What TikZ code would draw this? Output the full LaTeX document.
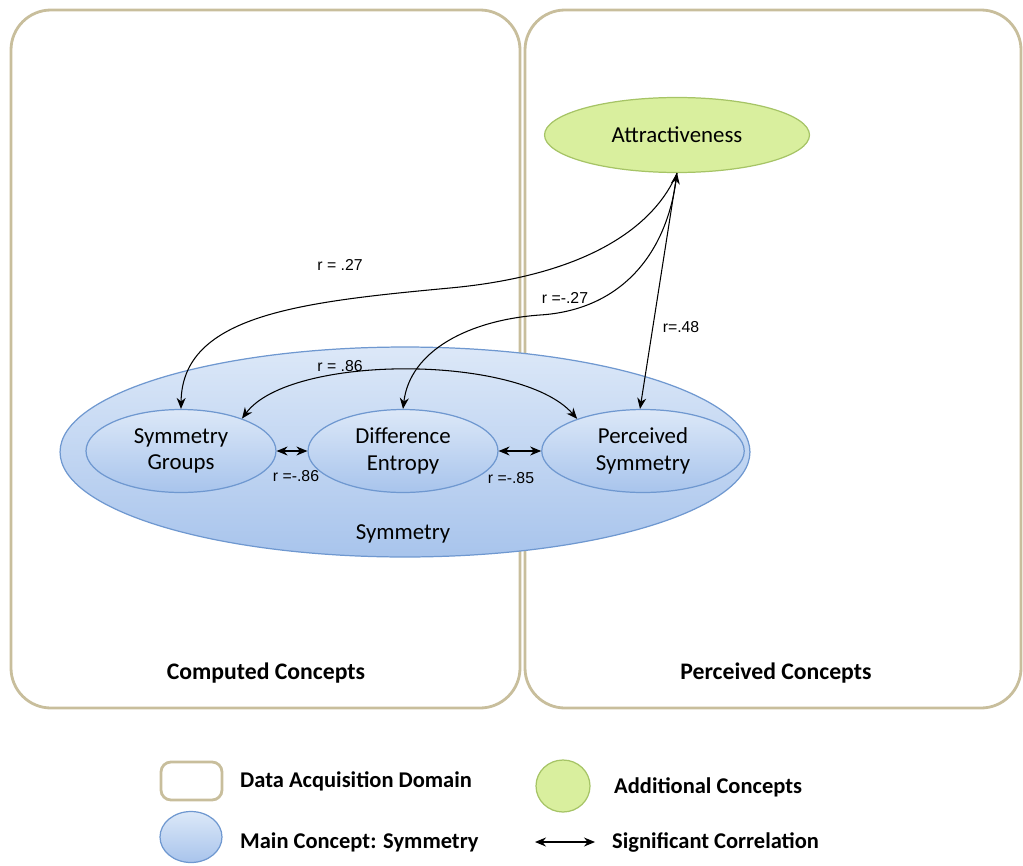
\documentclass[tikz,border=0pt]{standalone}
\usepackage{fontspec}
\setmainfont{Carlito}
\newfontfamily\rfont{Liberation Sans}
\usepackage{xcolor}
\usetikzlibrary{shapes.geometric, arrows.meta}

\definecolor{domainline}{HTML}{C8BE9C}
\definecolor{symtop}{HTML}{DCE8F8}
\definecolor{symbottom}{HTML}{A8C4EC}
\definecolor{symline}{HTML}{6F98D0}
\definecolor{addfill}{HTML}{D9EF9E}
\definecolor{addline}{HTML}{A6C466}

\tikzset{
    acqbox/.style={draw=domainline, line width=1.6pt, rounded corners=0.8cm},
    mainconcept/.style={ellipse, draw=symline, line width=0.7pt,
                        top color=symtop, bottom color=symbottom,
                        align=center, font=\fontsize{13}{15}\selectfont},
    addconcept/.style={ellipse, draw=addline, line width=0.7pt, fill=addfill,
                       align=center, font=\fontsize{13}{15}\selectfont},
    corr/.style={{Stealth[length=2.2mm,width=1.8mm]}-{Stealth[length=2.2mm,width=1.8mm]}, line width=0.6pt},
    tocorr/.style={-{Stealth[length=2.2mm,width=1.8mm]}, line width=0.6pt},
    rlabel/.style={font=\rfont\fontsize{9}{10}\selectfont},
    boxlabel/.style={font=\bfseries\fontsize{13.5}{15}\selectfont},
    legendtext/.style={anchor=west, font=\bfseries\fontsize{12.8}{14}\selectfont}
}

\begin{document}
\begin{tikzpicture}[x=0.02cm, y=-0.02cm]
    \useasboundingbox (0,0) rectangle (1023,865);

    % data acquisition domains
    \draw[acqbox] (11,10) rectangle (520,708);
    \draw[acqbox] (525,10) rectangle (1021,708);
    \node[boxlabel] (computed) at (266,673) {Computed Concepts};
    \node[boxlabel] (perceived) at (776,673) {Perceived Concepts};

    % concepts
    \node[mainconcept, minimum width=13.8cm, minimum height=4.2cm] (sym) at (405,452) {};
    \node[font=\fontsize{13}{15}\selectfont] (symlabel) at (403,534) {Symmetry};
    \node[mainconcept, minimum width=3.8cm, minimum height=1.66cm] (sg) at (181,451) {Symmetry\\Groups};
    \node[mainconcept, minimum width=3.8cm, minimum height=1.66cm] (de) at (403,451) {Difference\\Entropy};
    \node[mainconcept, minimum width=4.05cm, minimum height=1.66cm] (ps) at (643,451) {Perceived\\Symmetry};
    \node[addconcept, minimum width=5.3cm, minimum height=1.5cm] (attr) at (677,135) {Attractiveness};

    % correlations
    \draw[corr] (sg.east) -- (de.west);
    \draw[corr] (de.east) -- (ps.west);
    \draw[corr] (sg.28) .. controls (290,354) and (520,354) .. (ps.154);
    \draw[tocorr] (attr.south) .. controls (655,225) and (590,275) .. (450,288)
                  .. controls (300,302) and (182,315) .. (sg.north);
    \draw[tocorr] (attr.south) .. controls (668,255) and (620,310) .. (540,315)
                  .. controls (470,320) and (410,350) .. (de.north);
    \draw[corr] (attr.south) -- ([xshift=-0.06cm]ps.north);

    \node[rlabel] (r27) at (340,265) {r = .27};
    \node[rlabel] (rm27) at (565,298) {r =-.27};
    \node[rlabel] (r48) at (681,327) {r=.48};
    \node[rlabel] (r86) at (340,366) {r = .86};
    \node[rlabel] (rm86) at (296,476) {r =-.86};
    \node[rlabel] (rm85) at (511,478) {r =-.85};

    % legend
    \draw[acqbox, rounded corners=0.2cm] (161,762) rectangle (222,800);
    \node[legendtext] (ldomain) at (234,781) {Data Acquisition Domain};
    \node[addconcept, minimum width=1.08cm, minimum height=1.04cm] (ladd) at (563,786) {};
    \node[legendtext] (laddtext) at (608,787) {Additional Concepts};
    \node[mainconcept, minimum width=1.24cm, minimum height=1.02cm] (lmain) at (191,837) {};
    \node[legendtext] (lmaintext) at (234,842) {Main Concept: Symmetry};
    \coordinate (lcorrA) at (535,842);
    \coordinate (lcorrB) at (595,842);
    \draw[corr] (lcorrA) -- (lcorrB);
    \node[legendtext] (lcorrtext) at (606,842) {Significant Correlation};
\end{tikzpicture}
\end{document}
